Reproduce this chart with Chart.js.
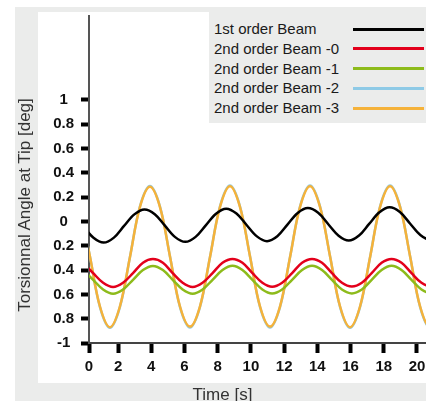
<!DOCTYPE html>
<html>
<head>
<meta charset="utf-8">
<script src="https://cdn.jsdelivr.net/npm/chart.js@4/dist/chart.umd.min.js"></script>
<style>
    html, body { margin: 0; padding: 0; background: #fff; }
    body { position: relative; width: 426px; height: 401px; overflow: hidden; font-family: 'Liberation Sans', Arial, sans-serif; }
    canvas#torsion-chart { position: absolute; left: 0; top: 0; }
    #legend { position: absolute; left: 209px; top: 7px; width: 230px; height: 116px; background: #ebeceb; }
    .legend-row { position: absolute; left: 5px; height: 20px; line-height: 20px; font-size: 15px; color: #1a1a1a; white-space: nowrap; }
    .legend-line { position: absolute; left: 144px; width: 71px; height: 3px; }
    #y-title { position: absolute; left: -105px; top: 195px; width: 260px; height: 20px; line-height: 20px; text-align: center; font-size: 17px; color: #333; transform: rotate(-90deg); white-space: nowrap; }
    #x-title { position: absolute; left: 0; top: 385px; width: 445px; height: 20px; line-height: 20px; text-align: center; font-size: 17px; color: #333; }
</style>
</head>
<body>
<canvas id="torsion-chart" width="470" height="401"></canvas>
<div id="legend"></div>
<div id="y-title">Torsionnal Angle at Tip [deg]</div>
<div id="x-title">Time [s]</div>
<script>
'use strict';

// series (time in s, angle in deg)
const seriesLabels = ['1st order Beam', '2nd order Beam -0', '2nd order Beam -1', '2nd order Beam -2', '2nd order Beam -3'];
const seriesColors = ['#000000', '#e3001b', '#8dbb1b', '#8ecae6', '#f5b23a'];

const timeBeam1st = [-0.10, 0.52, 1.13, 1.75, 2.36, 2.98, 3.59, 4.21, 4.82, 5.44, 6.05, 6.67, 7.28, 7.90, 8.51, 9.13, 9.74, 10.36,
    10.97, 11.59, 12.20, 12.82, 13.43, 14.05, 14.66, 15.28, 15.89, 16.51, 17.12, 17.74, 18.35, 18.97, 19.58, 20.20, 20.81, 21.43];
const angleBeam1st = [-0.040, -0.134, -0.174, -0.133, -0.037, 0.058, 0.099, 0.060, -0.034, -0.129, -0.168, -0.127, -0.032, 0.064, 0.105, 0.065, -0.029, -0.123,
    -0.162, -0.122, -0.026, 0.070, 0.110, 0.071, -0.023, -0.117, -0.157, -0.116, -0.020, 0.075, 0.116, 0.077, -0.017, -0.112, -0.151, -0.110];

const timeBeam2nd01 = [-0.10, 0.50, 1.10, 1.70, 2.30, 2.90, 3.50, 4.10, 4.70, 5.29, 5.89, 6.49, 7.09, 7.69, 8.29, 8.89, 9.49, 10.09, 10.69,
    11.28, 11.88, 12.48, 13.08, 13.68, 14.28, 14.88, 15.48, 16.08, 16.68, 17.27, 17.87, 18.47, 19.07, 19.67, 20.27, 20.87, 21.47];
const angleBeam2nd0 = [-0.34, -0.425, -0.505, -0.54, -0.505, -0.425, -0.34, -0.31, -0.34, -0.425, -0.505, -0.54, -0.505, -0.425, -0.34, -0.308, -0.34, -0.425, -0.505,
    -0.538, -0.505, -0.425, -0.34, -0.308, -0.34, -0.425, -0.505, -0.536, -0.505, -0.425, -0.34, -0.308, -0.34, -0.425, -0.505, -0.536, -0.505];
const angleBeam2nd1 = [-0.40, -0.48, -0.56, -0.595, -0.56, -0.48, -0.40, -0.366, -0.40, -0.48, -0.56, -0.595, -0.56, -0.48, -0.40, -0.365, -0.40, -0.48, -0.56,
    -0.593, -0.56, -0.48, -0.40, -0.365, -0.40, -0.48, -0.56, -0.592, -0.56, -0.48, -0.40, -0.365, -0.40, -0.48, -0.56, -0.592, -0.56];

const timeBeam2nd23 = [-0.30, 0.31, 0.91, 1.51, 2.11, 2.72, 3.32, 3.92, 4.52, 5.13, 5.73, 6.33, 6.93, 7.54, 8.14, 8.74, 9.34, 9.95, 10.55,
    11.15, 11.75, 12.36, 12.96, 13.56, 14.16, 14.77, 15.37, 15.97, 16.57, 17.18, 17.78, 18.38, 18.98, 19.59, 20.19, 20.79, 21.39];
const angleBeam2nd2 = [0.125, -0.29, -0.705, -0.875, -0.705, -0.29, 0.125, 0.292, 0.125, -0.29, -0.705, -0.872, -0.705, -0.29, 0.125, 0.295, 0.125, -0.29, -0.705,
    -0.872, -0.705, -0.29, 0.125, 0.295, 0.125, -0.29, -0.705, -0.875, -0.705, -0.29, 0.125, 0.295, 0.125, -0.29, -0.705, -0.875, -0.705];
const angleBeam2nd3 = [0.12, -0.29, -0.70, -0.87, -0.70, -0.29, 0.12, 0.285, 0.12, -0.29, -0.70, -0.865, -0.70, -0.29, 0.12, 0.29, 0.12, -0.29, -0.70,
    -0.865, -0.70, -0.29, 0.12, 0.29, 0.12, -0.29, -0.70, -0.87, -0.70, -0.29, 0.12, 0.29, 0.12, -0.29, -0.70, -0.87, -0.70];

// axis ticks as printed on the original (negative labels lost their sign there)
const xTickValues = [0.25, 2, 4, 6, 8, 10, 12, 14, 16, 18, 20];
const xTickLabels = ['0', '2', '4', '6', '8', '10', '12', '14', '16', '18', '20'];
const yTickValues = [-1, -0.8, -0.6, -0.4, -0.2, 0, 0.2, 0.4, 0.6, 0.8, 1];
const yTickLabels = ['-1', '0.8', '0.6', '0.4', '0.2', '0', '0.2', '0.4', '0.6', '0.8', '1'];

function toPoints(times, angles) {
    return times.map((t, i) => ({ x: t, y: angles[i] }));
}

let seriesData = [
    toPoints(timeBeam1st, angleBeam1st),
    toPoints(timeBeam2nd01, angleBeam2nd0),
    toPoints(timeBeam2nd01, angleBeam2nd1),
    toPoints(timeBeam2nd23, angleBeam2nd2),
    toPoints(timeBeam2nd23, angleBeam2nd3)
];
// draw order: beam -2 under beam -3, black on top
let drawOrder = [0, 1, 2, 4, 3];

let datasets = seriesLabels.map((label, i) => ({
    label: label,
    data: seriesData[i],
    borderColor: seriesColors[i],
    borderWidth: 2.5,
    pointRadius: 0,
    tension: 0.35,
    fill: false,
    order: drawOrder[i]
}));

// grey frame + white plot panel behind everything
const panelBackground = {
    id: 'panelBackground',
    beforeDraw(chart) {
        let ctx = chart.ctx;
        ctx.save();
        ctx.fillStyle = '#ebeceb';
        ctx.fillRect(15, 7, chart.width - 15, chart.height - 7);
        ctx.fillStyle = '#ffffff';
        ctx.fillRect(38, 12, chart.width - 38, 383 - 12);
        ctx.restore();
    }
};

const tickFont = { family: "'Liberation Sans', Arial, sans-serif", size: 15, weight: 'bold' };

const ctx = document.getElementById('torsion-chart').getContext('2d');
const torsionChart = new Chart(ctx, {
    type: 'line',
    data: { datasets: datasets },
    plugins: [panelBackground],
    options: {
        responsive: false,
        animation: false,
        layout: { padding: { left: 0, right: 11.5, top: 12, bottom: 0 } },
        plugins: {
            legend: { display: false },
            tooltip: { enabled: false }
        },
        scales: {
            x: {
                type: 'linear',
                min: 0.25,
                max: 22.5,
                afterBuildTicks: scale => { scale.ticks = xTickValues.map(v => ({ value: v })); },
                afterFit: scale => { scale.height = 58; },
                ticks: {
                    autoSkip: false,
                    maxRotation: 0,
                    padding: 5,
                    color: '#111',
                    font: tickFont,
                    callback: (value, index) => xTickLabels[index]
                },
                grid: { drawOnChartArea: false, drawTicks: true, tickLength: 10, tickWidth: 4, tickColor: '#000' },
                border: { display: true, color: '#444', width: 2 }
            },
            y: {
                type: 'linear',
                min: -1,
                max: 1.69,
                afterBuildTicks: scale => { scale.ticks = yTickValues.map(v => ({ value: v })); },
                afterFit: scale => { scale.width = 89; },
                ticks: {
                    autoSkip: false,
                    padding: 7,
                    crossAlign: 'center',
                    color: '#111',
                    font: tickFont,
                    callback: (value, index) => yTickLabels[index]
                },
                grid: { drawOnChartArea: false, drawTicks: true, tickLength: 8, tickWidth: 4, tickColor: '#000' },
                border: { display: true, color: '#555', width: 2 }
            }
        }
    }
});

// legend box: text on the left, line swatch on the right
function renderLegend() {
    let legendElem = document.getElementById('legend');
    seriesLabels.forEach((label, i) => {
        let rowTop = 12 + i * 19.8;
        let textElem = document.createElement('div');
        textElem.className = 'legend-row';
        textElem.style.top = rowTop + 'px';
        textElem.textContent = label;
        legendElem.appendChild(textElem);

        let lineElem = document.createElement('div');
        lineElem.className = 'legend-line';
        lineElem.style.top = (rowTop + 8.5) + 'px';
        lineElem.style.background = seriesColors[i];
        legendElem.appendChild(lineElem);
    });
}

renderLegend();
</script>
</body>
</html>
